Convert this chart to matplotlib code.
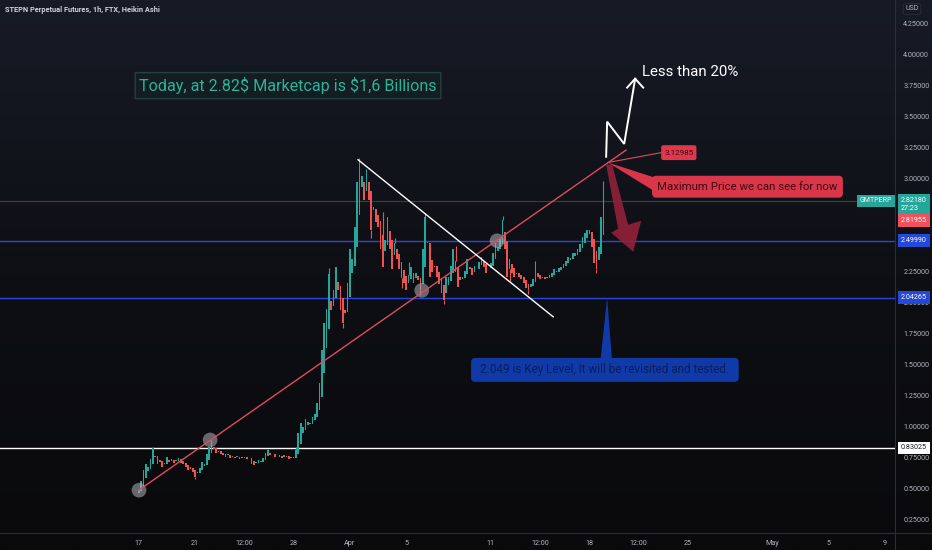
import numpy as np
import matplotlib.pyplot as plt
from matplotlib.patches import Polygon, FancyBboxPatch, Ellipse
from matplotlib.lines import Line2D
from matplotlib.colors import LinearSegmentedColormap

plt.rcParams['font.family'] = ['Roboto', 'DejaVu Sans']

# GMT-PERP Heikin Ashi closes, 4h steps, one row per day starting Mar 17
closes = [
    0.49, 0.56, 0.65, 0.70, 0.68, 0.74,
    0.83, 0.76, 0.70, 0.72, 0.68, 0.70,
    0.76, 0.72, 0.74, 0.71, 0.73, 0.75,
    0.71, 0.70, 0.68, 0.65, 0.66, 0.64,
    0.60, 0.63, 0.67, 0.72, 0.70, 0.78,
    0.84, 0.89, 0.82, 0.79, 0.80, 0.78,
    0.77, 0.76, 0.78, 0.75, 0.76, 0.75,
    0.76, 0.74, 0.75, 0.76, 0.74, 0.75,
    0.70, 0.69, 0.71, 0.73, 0.72, 0.75,
    0.79, 0.81, 0.77, 0.78, 0.76, 0.77,
    0.76, 0.75, 0.77, 0.76, 0.74, 0.75,
    0.75, 0.81, 0.95, 1.03, 1.00, 1.06,
    1.04, 1.02, 1.08, 1.10, 1.19, 1.35,
    1.62, 1.84, 1.95, 2.23, 1.94, 2.10,
    2.29, 2.10, 1.94, 1.84, 1.92, 2.16,
    2.43, 2.35, 2.61, 2.97, 3.15, 3.02,
    2.83, 3.05, 2.83, 2.59, 2.77, 2.65,
    2.61, 2.43, 2.29, 2.51, 2.69, 2.43,
    2.27, 2.48, 2.35, 2.27, 2.20, 2.16,
    2.10, 2.22, 2.29, 2.16, 2.24, 2.18,
    2.10, 2.43, 2.69, 2.48, 2.21, 2.25,
    2.29, 2.21, 2.15, 2.08, 2.02, 2.21,
    2.21, 2.30, 2.43, 2.25, 2.13, 2.18,
    2.21, 2.26, 2.35, 2.27, 2.22, 2.30,
    2.27, 2.33, 2.37, 2.29, 2.24, 2.28,
    2.32, 2.40, 2.48, 2.45, 2.52, 2.67,
    2.43, 2.21, 2.27, 2.24, 2.21, 2.23,
    2.21, 2.19, 2.16, 2.12, 2.10, 2.15,
    2.19, 2.32, 2.21, 2.19, 2.20, 2.19,
    2.21, 2.22, 2.24, 2.27, 2.25, 2.28,
    2.29, 2.31, 2.34, 2.37, 2.36, 2.40,
    2.40, 2.43, 2.47, 2.53, 2.56, 2.59,
    2.59, 2.45, 2.32, 2.27, 2.45, 2.69,
    2.82,
]
first_open = 0.47

# notable wicks (candle index, price)
wick_hi_idx = [6, 31, 55, 67, 81, 94, 97, 104, 109, 115, 122, 135, 155, 169, 198]
wick_hi = [0.84, 0.90, 0.82, 0.84, 2.28, 3.17, 3.08, 2.73, 2.52, 2.33, 2.72,
           2.46, 2.70, 2.34, 2.98]
wick_lo_idx = [24, 87, 99, 112, 120, 130, 158, 166, 195]
wick_lo = [0.58, 1.80, 2.52, 2.12, 2.06, 1.99, 2.17, 2.07, 2.24]

levels_blue = [2.49990, 2.04265]
level_white = 0.83025
last_price = 2.82180

# 2.50 and 2.75 sit under the price tags in the original, so they are not shown
price_ticks = [0.25, 0.5, 0.75, 1.0, 1.25, 1.5, 1.75, 2.0, 2.25,
               3.0, 3.25, 3.5, 3.75, 4.0, 4.25]
time_ticks = [0, 4, 7.5, 11, 15, 19, 25, 28.5, 32, 35.5, 39, 45, 49, 53]
time_labels = ['17', '21', '12:00', '28', 'Apr', '5', '11', '12:00', '18',
               '12:00', '25', 'May', '5', '9']

GREEN = '#26a69a'
RED = '#ef5350'
AXCOL = '#b2b5be'

# heikin ashi opens
opens = [first_open]
for i in range(1, len(closes)):
    opens.append((opens[i - 1] + closes[i - 1]) / 2)
opens = np.array(opens)
closes_a = np.array(closes)
xs = np.arange(len(closes)) / 6.0

fig = plt.figure(figsize=(9.32, 5.5), dpi=100)
bg = fig.add_axes([0, 0, 1, 1], zorder=0)
cmap = LinearSegmentedColormap.from_list('bg', ['#171b26', '#0e0f14', '#0a0a0c'])
bg.imshow(np.linspace(0, 1, 256).reshape(-1, 1), aspect='auto', cmap=cmap,
          extent=[0, 1, 0, 1], origin='upper')
bg.axis('off')

ax = fig.add_axes([0, 17 / 550, 895 / 932, 533 / 550], zorder=1)
ax.patch.set_alpha(0)
ax.set_xlim(-9.85, 53.7)
ax.set_ylim(0.145, 4.44)
for s in ax.spines.values():
    s.set_visible(False)

# levels
ax.axhline(last_price, color='#3a3e49', lw=0.8, zorder=1)
for lv in levels_blue:
    ax.axhline(lv, color='#2448d8', lw=1.0, zorder=2)
ax.axhline(level_white, color='white', lw=1.0, zorder=2)

# candles
up = closes_a >= opens
cols = np.where(up, GREEN, RED)
bottoms = np.minimum(opens, closes_a)
heights = np.maximum(np.abs(closes_a - opens), 0.006)
ax.bar(xs, heights, bottom=bottoms, width=0.12, color=cols, linewidth=0, zorder=3)
for i, h in zip(wick_hi_idx, wick_hi):
    ax.vlines(xs[i], max(opens[i], closes_a[i]), h, color=cols[i], lw=0.8, zorder=3)
for i, l in zip(wick_lo_idx, wick_lo):
    ax.vlines(xs[i], l, min(opens[i], closes_a[i]), color=cols[i], lw=0.8, zorder=3)

# touch circles
for cx, cy in [(0.02, 0.49), (5.07, 0.895), (20.1, 2.10), (25.45, 2.50)]:
    ax.add_patch(Ellipse((cx, cy), 1.05, 0.118, facecolor='#b0b3bb', alpha=0.55,
                         edgecolor='none', zorder=4))

# trend lines
ax.plot([0.0, 34.6], [0.49, 3.23], color='#e04a5f', lw=1.0, zorder=5)
ax.plot([33.3, 37.1], [3.13, 3.21], color='#e04a5f', lw=0.8, zorder=5)
ax.plot([15.57, 29.43], [3.153, 1.887], color='white', lw=1.0, zorder=5)

# zigzag projection
ax.plot([33.19, 33.26, 34.47, 35.25], [3.177, 3.46, 3.28, 3.806],
        color='white', lw=1.4, zorder=6, solid_joinstyle='miter')
ax.plot([34.68, 35.25, 35.82], [3.734, 3.806, 3.734], color='white', lw=1.4, zorder=6)
ax.text(35.75, 3.863, 'Less than 20%', color='white', fontsize=10.8, va='center',
        ha='left', zorder=7)

# red down arrow
ax.add_patch(Polygon([(33.19, 3.113), (34.04, 2.597), (33.54, 2.565), (35.11, 2.411),
                      (35.68, 2.661), (34.75, 2.629), (33.62, 3.113)],
                     closed=True, facecolor='#92213a', alpha=0.9, edgecolor='none',
                     zorder=5))

ASP = 14.08 / 124.0


def box(x0, x1, y0, y1, fc, ec='none', z=6, r=0.3):
    ax.add_patch(FancyBboxPatch((x0, y0), x1 - x0, y1 - y0,
                                boxstyle='round,pad=0,rounding_size=%s' % r,
                                mutation_aspect=ASP, facecolor=fc, edgecolor=ec,
                                lw=1.0, zorder=z))


# maximum price callout
ax.add_patch(Polygon([(33.33, 3.13), (36.6, 3.01), (36.6, 2.90)], closed=True,
                     facecolor='#d9364a', edgecolor='none', zorder=6))
box(36.45, 50.0, 2.847, 3.024, '#d9364a')
ax.text(43.2, 2.935, 'Maximum Price we can see for now', color='#3d0a12',
        fontsize=8.2, ha='center', va='center', zorder=7)

box(37.1, 39.6, 3.15, 3.27, '#e0384b', r=0.15)
ax.text(38.35, 3.21, '3.12985', color='#3d0a12', fontsize=5.8, ha='center',
        va='center', zorder=7)

# marketcap note
box(-0.25, 21.45, 3.645, 3.855, '#141d22', ec='#24403f', r=0.0)
ax.text(10.6, 3.75, 'Today, at 2.82\\$ Marketcap is \\$1,6 Billions', color='#2bb39b',
        fontsize=11.6, ha='center', va='center', zorder=7)

# key level callout
ax.add_patch(Polygon([(33.26, 2.043), (32.8, 1.55), (33.6, 1.55)], closed=True,
                     facecolor='#0f3aa8', edgecolor='none', zorder=6))
box(23.6, 42.6, 1.363, 1.556, '#0f3aa8')
ax.text(33.1, 1.46, '2.049 is Key Level, It will be revisited and tested.',
        color='#0a1d5c', fontsize=8.5, ha='center', va='center', zorder=7)

# axes ticks
ax.yaxis.set_ticks_position('right')
ax.set_yticks(price_ticks)
ax.set_yticklabels(['%.5f' % t for t in price_ticks])
ax.tick_params(axis='y', length=0, pad=6, labelsize=5.2, labelcolor=AXCOL)
ax.set_xticks(time_ticks)
ax.set_xticklabels(time_labels)
ax.tick_params(axis='x', length=0, pad=5, labelsize=5.2, labelcolor=AXCOL)

# price scale labels
tr = ax.get_yaxis_transform()
lab_x = 1.0067


def plabel(y, txt, fc, tc='white'):
    ax.text(lab_x, y, txt, transform=tr, fontsize=5.2, color=tc, ha='left',
            va='center', clip_on=False, zorder=8,
            bbox=dict(boxstyle='square,pad=0.4', fc=fc, ec='none'))


ax.text(lab_x, 2.856, '2.82180\n27:23', transform=tr, fontsize=5.2, color='white',
        ha='left', va='top', clip_on=False, zorder=8, linespacing=1.3,
        bbox=dict(boxstyle='square,pad=0.4', fc=GREEN, ec='none'))
plabel(2.665, '2.81955', '#f0515f')
plabel(levels_blue[0], '2.49990', '#2448d8')
plabel(levels_blue[1], '2.04265', '#2448d8')
plabel(level_white, '0.83025', 'white', tc='#131722')
ax.text(0.979, last_price, 'GMTPERP', transform=tr, fontsize=5, color='white',
        ha='center', va='center', zorder=8,
        bbox=dict(boxstyle='square,pad=0.4', fc=GREEN, ec='none'))

# panel separators
fig.add_artist(Line2D([895 / 932, 895 / 932], [0, 1], color='#2a2e39', lw=0.8))
fig.add_artist(Line2D([0, 1], [17 / 550, 17 / 550], color='#2a2e39', lw=0.8))

fig.text(5 / 932, 1 - 10 / 550, 'STEPN Perpetual Futures, 1h, FTX, Heikin Ashi',
         fontsize=5.3, color='#d1d4dc', va='center', ha='left', weight='bold')
fig.text(912 / 932, 1 - 9 / 550, 'USD', fontsize=5, color=AXCOL, va='center',
         ha='center', bbox=dict(boxstyle='round,pad=0.3', fc='none', ec='#2a2e39',
                                lw=0.6))

fig.savefig('out.png', dpi=100, facecolor=fig.get_facecolor())
